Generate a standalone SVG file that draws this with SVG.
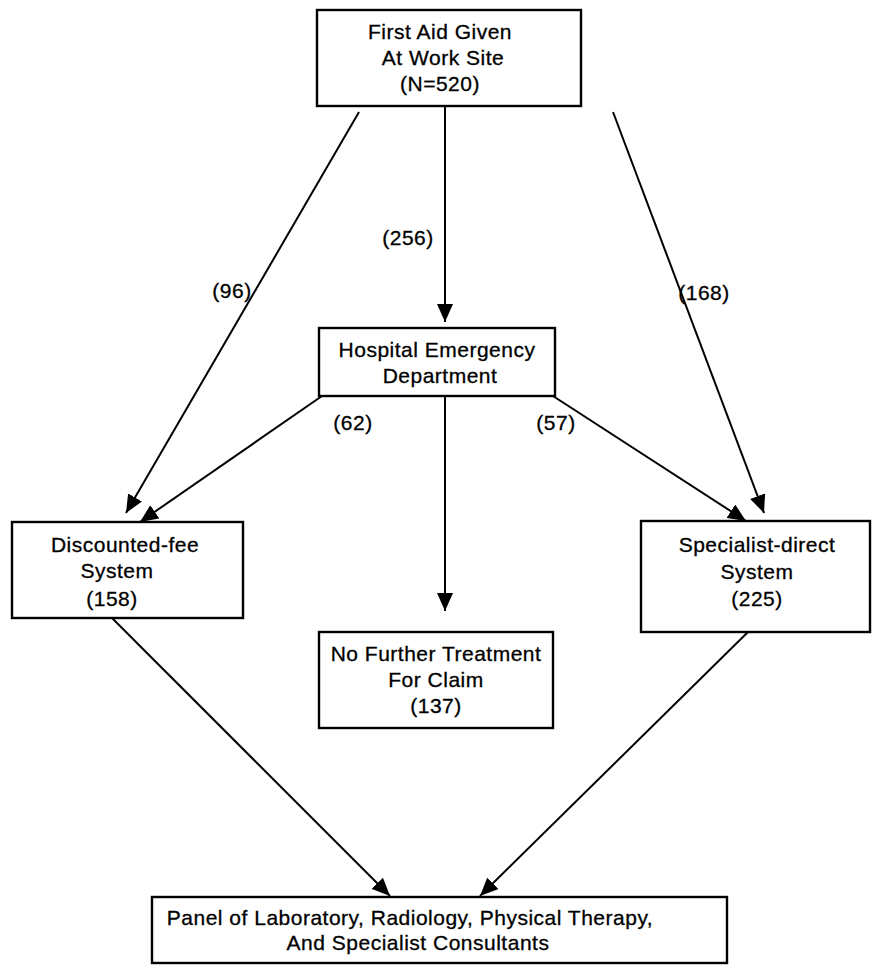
<svg xmlns="http://www.w3.org/2000/svg" width="874" height="965" viewBox="0 0 874 965">
<style>
.box{fill:#fff;stroke:#000;stroke-width:2.4}
.t{font-family:"Liberation Sans",Arial,sans-serif;font-size:21px;letter-spacing:0.5px;fill:#000;stroke:#000;stroke-width:0.3}
.c{text-anchor:middle}
.ln{stroke:#000;stroke-width:2;fill:none;marker-end:url(#ah)}
</style>
<defs>
<marker id="ah" markerUnits="userSpaceOnUse" markerWidth="19" markerHeight="16" refX="18" refY="8" orient="auto">
<path d="M0,0 L18,8 L0,16 Z" fill="#000"/>
</marker>
</defs>
<rect width="874" height="965" fill="#fff"/>
<g id="connectors">
<line class="ln" x1="445" y1="106" x2="445" y2="322"/>
<line class="ln" x1="359" y1="112" x2="126" y2="513"/>
<line class="ln" x1="613" y1="112" x2="764" y2="513"/>
<line class="ln" x1="322" y1="396" x2="140" y2="522"/>
<line class="ln" x1="553" y1="396" x2="746" y2="521"/>
<line class="ln" x1="445" y1="396" x2="445" y2="611"/>
<line class="ln" x1="112" y1="618" x2="390" y2="896"/>
<line class="ln" x1="748" y1="632" x2="480" y2="896"/>
<text class="t c" x="408" y="245">(256)</text>
<text class="t c" x="232" y="298">(96)</text>
<text class="t c" x="704" y="300">(168)</text>
<text class="t c" x="353" y="430">(62)</text>
<text class="t c" x="556" y="430">(57)</text>
</g>
<g id="first-aid">
<rect class="box" x="317" y="10" width="264" height="96"/>
<text class="t c" x="440" y="39">First Aid Given</text>
<text class="t c" x="443" y="65">At Work Site</text>
<text class="t c" x="440" y="91">(N=520)</text>
</g>
<g id="hospital">
<rect class="box" x="319" y="328" width="236" height="68"/>
<text class="t c" x="437" y="357">Hospital Emergency</text>
<text class="t c" x="440" y="383">Department</text>
</g>
<g id="discounted">
<rect class="box" x="12" y="522" width="231" height="96"/>
<text class="t c" x="125" y="552">Discounted-fee</text>
<text class="t c" x="117" y="578">System</text>
<text class="t c" x="112" y="606">(158)</text>
</g>
<g id="specialist">
<rect class="box" x="641" y="521" width="229" height="111"/>
<text class="t c" x="757" y="552">Specialist-direct</text>
<text class="t c" x="757" y="579">System</text>
<text class="t c" x="757" y="606">(225)</text>
</g>
<g id="no-further">
<rect class="box" x="319" y="632" width="234" height="96"/>
<text class="t c" x="436" y="661">No Further Treatment</text>
<text class="t c" x="436" y="687">For Claim</text>
<text class="t c" x="436" y="713">(137)</text>
</g>
<g id="panel">
<rect class="box" x="152" y="897" width="575" height="66"/>
<text class="t c" x="410" y="925">Panel of Laboratory, Radiology, Physical Therapy,</text>
<text class="t c" x="418" y="950">And Specialist Consultants</text>
</g>
</svg>
